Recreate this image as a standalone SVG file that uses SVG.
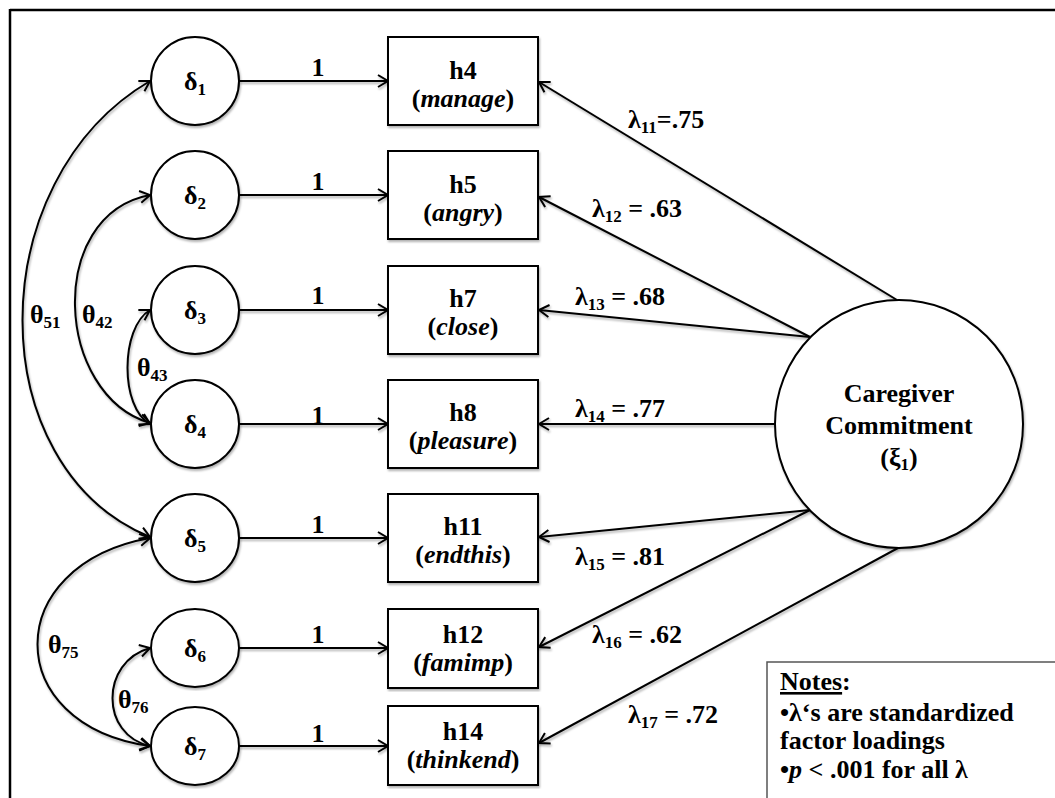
<svg xmlns="http://www.w3.org/2000/svg" width="1055" height="798" viewBox="0 0 1055 798" font-family="'Liberation Serif', 'Times New Roman', 'DejaVu Serif', serif">
<style>
text{font-weight:bold;fill:#000;font-size:26px}
.shape{fill:#fff;stroke:#000;stroke-width:2}
.conn{fill:none;stroke:#000;stroke-width:2;marker-end:url(#arr)}
.mid{text-anchor:middle}
.sub{font-size:17px}
.it{font-style:italic}
</style>
<defs>
<marker id="arr" markerUnits="userSpaceOnUse" markerWidth="14" markerHeight="14" refX="11" refY="7" orient="auto-start-reverse" overflow="visible">
<path d="M1,1 L11,7 L1,13" fill="none" stroke="#000" stroke-width="2"/>
</marker>
<filter id="sh" x="-5%" y="-5%" width="110%" height="110%">
<feDropShadow dx="1" dy="2" stdDeviation="1" flood-color="#000" flood-opacity="0.3"/>
</filter>
</defs>
<rect width="1055" height="798" fill="#fff"/>
<g id="frame">
<line x1="10" y1="10" x2="1055" y2="10" stroke="#000" stroke-width="2.5"/>
<line x1="10" y1="9" x2="10" y2="798" stroke="#000" stroke-width="2.5"/>
</g>
<g id="connectors" filter="url(#sh)">
<line class="conn" x1="239" y1="81" x2="388" y2="81"/>
<line class="conn" x1="239" y1="195" x2="388" y2="195"/>
<line class="conn" x1="239" y1="310" x2="388" y2="310"/>
<line class="conn" x1="239" y1="424" x2="388" y2="424"/>
<line class="conn" x1="239" y1="538" x2="388" y2="538"/>
<line class="conn" x1="239" y1="648" x2="388" y2="648"/>
<line class="conn" x1="239" y1="746" x2="388" y2="746"/>
<line class="conn" x1="897" y1="300" x2="539" y2="82"/>
<line class="conn" x1="810" y1="337" x2="539" y2="197"/>
<line class="conn" x1="810" y1="337" x2="539" y2="310"/>
<line class="conn" x1="775" y1="424" x2="539" y2="424"/>
<line class="conn" x1="810" y1="510" x2="539" y2="537"/>
<line class="conn" x1="810" y1="510" x2="539" y2="647"/>
<line class="conn" x1="898" y1="548" x2="539" y2="743"/>
<path class="conn" d="M150,81 C-20,181 -20,467 150,537" marker-start="url(#arr)"/>
<path class="conn" d="M150,195 C45,215 55,395 150,423" marker-start="url(#arr)"/>
<path class="conn" d="M150,310 C120,328 120,408 150,424" marker-start="url(#arr)"/>
<path class="conn" d="M150,538 C0,565 0,725 150,746" marker-start="url(#arr)"/>
<path class="conn" d="M150,648 C100,662 100,735 150,746" marker-start="url(#arr)"/>
</g>
<g id="connector-labels">
<text class="mid" x="318" y="76">1</text>
<text class="mid" x="318" y="190">1</text>
<text class="mid" x="318" y="304">1</text>
<text class="mid" x="318" y="424">1</text>
<text class="mid" x="318" y="533">1</text>
<text class="mid" x="318" y="643">1</text>
<text class="mid" x="318" y="742">1</text>
<text x="628" y="128">λ<tspan class="sub" dy="5">11</tspan><tspan dy="-5">=.75</tspan></text>
<text x="592" y="217">λ<tspan class="sub" dy="5">12</tspan><tspan dy="-5"> = .63</tspan></text>
<text x="575" y="305">λ<tspan class="sub" dy="5">13</tspan><tspan dy="-5"> = .68</tspan></text>
<text x="575" y="417">λ<tspan class="sub" dy="5">14</tspan><tspan dy="-5"> = .77</tspan></text>
<text x="575" y="565">λ<tspan class="sub" dy="5">15</tspan><tspan dy="-5"> = .81</tspan></text>
<text x="592" y="643">λ<tspan class="sub" dy="5">16</tspan><tspan dy="-5"> = .62</tspan></text>
<text x="628" y="723">λ<tspan class="sub" dy="5">17</tspan><tspan dy="-5"> = .72</tspan></text>
<text x="30" y="323">θ<tspan class="sub" dy="5">51</tspan></text>
<text x="82" y="323">θ<tspan class="sub" dy="5">42</tspan></text>
<text x="137" y="376">θ<tspan class="sub" dy="5">43</tspan></text>
<text x="48" y="653">θ<tspan class="sub" dy="5">75</tspan></text>
<text x="118" y="708">θ<tspan class="sub" dy="5">76</tspan></text>
</g>
<g id="d1"><circle class="shape" cx="195" cy="81" r="44" filter="url(#sh)"/><text class="mid" x="195" y="90">δ<tspan class="sub" dy="5">1</tspan></text></g>
<g id="d2"><circle class="shape" cx="195" cy="195" r="44" filter="url(#sh)"/><text class="mid" x="195" y="204">δ<tspan class="sub" dy="5">2</tspan></text></g>
<g id="d3"><circle class="shape" cx="195" cy="310" r="44" filter="url(#sh)"/><text class="mid" x="195" y="319">δ<tspan class="sub" dy="5">3</tspan></text></g>
<g id="d4"><circle class="shape" cx="195" cy="424" r="44" filter="url(#sh)"/><text class="mid" x="195" y="433">δ<tspan class="sub" dy="5">4</tspan></text></g>
<g id="d5"><circle class="shape" cx="195" cy="538" r="44" filter="url(#sh)"/><text class="mid" x="195" y="547">δ<tspan class="sub" dy="5">5</tspan></text></g>
<g id="d6"><ellipse class="shape" cx="195" cy="648" rx="44" ry="39" filter="url(#sh)"/><text class="mid" x="195" y="657">δ<tspan class="sub" dy="5">6</tspan></text></g>
<g id="d7"><ellipse class="shape" cx="195" cy="746" rx="44" ry="39" filter="url(#sh)"/><text class="mid" x="195" y="755">δ<tspan class="sub" dy="5">7</tspan></text></g>
<g id="h4"><rect class="shape" x="388" y="37" width="150" height="88" filter="url(#sh)"/><text class="mid" x="463" y="79">h4</text><text class="mid" x="463" y="107">(<tspan class="it">manage</tspan>)</text></g>
<g id="h5"><rect class="shape" x="388" y="151" width="150" height="88" filter="url(#sh)"/><text class="mid" x="463" y="193">h5</text><text class="mid" x="463" y="221">(<tspan class="it">angry</tspan>)</text></g>
<g id="h7"><rect class="shape" x="388" y="266" width="150" height="88" filter="url(#sh)"/><text class="mid" x="463" y="307">h7</text><text class="mid" x="463" y="335">(<tspan class="it">close</tspan>)</text></g>
<g id="h8"><rect class="shape" x="388" y="380" width="150" height="88" filter="url(#sh)"/><text class="mid" x="463" y="421">h8</text><text class="mid" x="463" y="449">(<tspan class="it">pleasure</tspan>)</text></g>
<g id="h11"><rect class="shape" x="388" y="494" width="150" height="88" filter="url(#sh)"/><text class="mid" x="463" y="535">h11</text><text class="mid" x="463" y="563">(<tspan class="it">endthis</tspan>)</text></g>
<g id="h12"><rect class="shape" x="388" y="609" width="150" height="79" filter="url(#sh)"/><text class="mid" x="463" y="643">h12</text><text class="mid" x="463" y="671">(<tspan class="it">famimp</tspan>)</text></g>
<g id="h14"><rect class="shape" x="388" y="706" width="150" height="79" filter="url(#sh)"/><text class="mid" x="463" y="740">h14</text><text class="mid" x="463" y="768">(<tspan class="it">thinkend</tspan>)</text></g>
<g id="xi1"><circle class="shape" cx="899" cy="424" r="124" filter="url(#sh)"/>
<text class="mid" x="899" y="402">Caregiver</text>
<text class="mid" x="899" y="434">Commitment</text>
<text class="mid" x="899" y="466">(ξ<tspan class="sub" dy="4">1</tspan><tspan dy="-4">)</tspan></text></g>
<g id="notes">
<rect x="767" y="662" width="300" height="150" fill="#fff" stroke="#555" stroke-width="1.5"/>
<text x="780" y="690"><tspan text-decoration="underline">Notes</tspan>:</text>
<text x="780" y="721">•λ‘s are standardized</text>
<text x="780" y="749">factor loadings</text>
<text x="780" y="778">•<tspan class="it">p</tspan> &lt; .001 for all λ</text>
</g>
</svg>
